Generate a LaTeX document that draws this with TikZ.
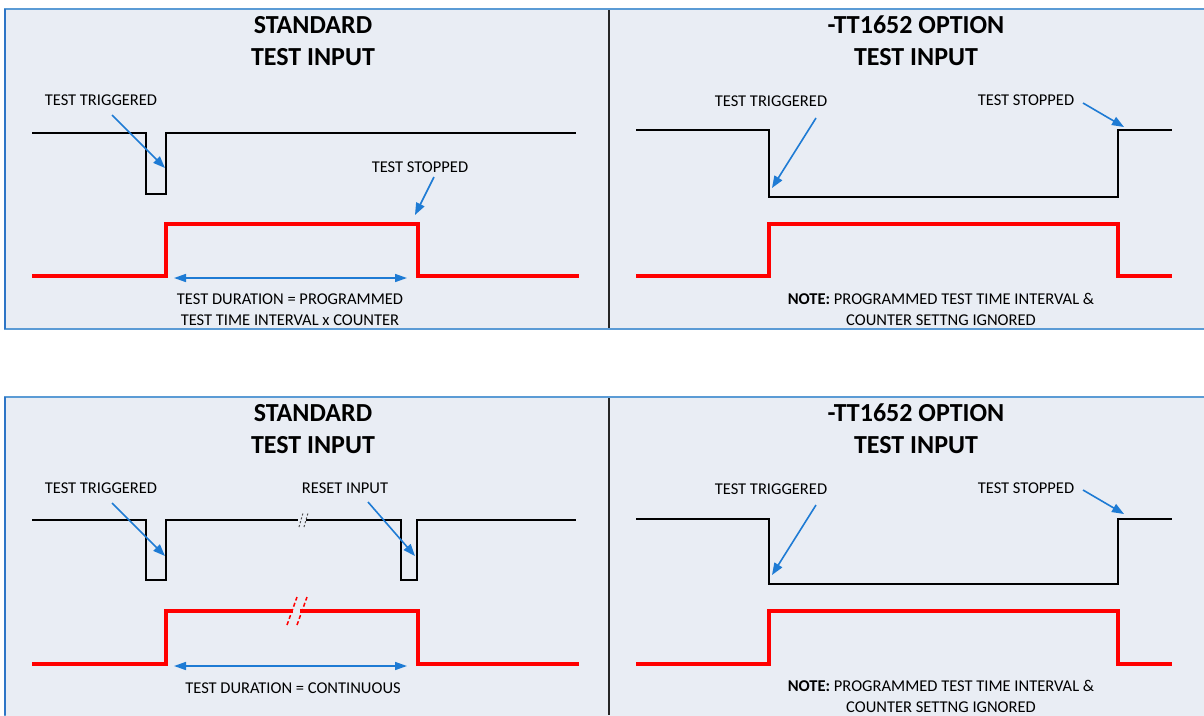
\documentclass[tikz,border=0pt]{standalone}
\usepackage{fontspec}
\setmainfont{Carlito}
\usetikzlibrary{arrows.meta}
\definecolor{panelbg}{HTML}{E9EDF4}
\definecolor{framebl}{HTML}{5B9BD5}
\definecolor{edgebl}{HTML}{2E75C6}
\definecolor{arrbl}{HTML}{1E7BD4}
\definecolor{redc}{HTML}{FF0000}
\begin{document}
\begin{tikzpicture}[x=1pt,y=-1pt,
  panel/.style={fill=panelbg,draw=framebl,line width=2pt},
  leftedge/.style={draw=edgebl,line width=2.2pt},
  divider/.style={draw=black!85,line width=2pt},
  title/.style={font=\fontsize{26}{32}\selectfont\bfseries,align=center,inner sep=0pt},
  lbl/.style={font=\fontsize{16.5}{21}\selectfont,inner sep=0pt,align=center},
  blacksig/.style={draw=black,line width=2pt},
  redsig/.style={draw=redc,line width=4pt},
  callout/.style={draw=arrbl,line width=1.6pt,-{Triangle[length=12pt,width=9pt]}},
  span/.style={draw=arrbl,line width=1.6pt,{Triangle[length=12pt,width=8pt]}-{Triangle[length=12pt,width=8pt]}},
  blackbreak/.style={draw=black!70,line width=1pt,dash pattern=on 2pt off 2pt},
  redbreak/.style={draw=redc,line width=1.5pt,dash pattern=on 4pt off 2.5pt}]
\clip (0,0) rectangle (1204,715);
% panels
\draw[panel] (5,9) rectangle (1215,329);
\draw[panel] (5,397) rectangle (1215,725);
\draw[leftedge] (5,9) -- (5,329);
\draw[leftedge] (5,397) -- (5,715);
\draw[divider] (609,10) -- (609,328);
\draw[divider] (609,398) -- (609,715);

% ---------- top left ----------
\node[title] (tlt) at (313,41) {STANDARD\\TEST INPUT};
\node[lbl] (tltrig) at (101,100) {TEST TRIGGERED};
\node[lbl] (tlstop) at (420,167) {TEST STOPPED};
\draw[blacksig] (32,133) -| (146,194) -| (166,133) -- (576,133);
\draw[redsig] (32,276) -| (166,224) -| (418,276) -- (579,276);
\coordinate (tla1s) at (112,115);
\coordinate (tla1e) at (165,168);
\draw[callout] (tla1s) -- (tla1e);
\coordinate (tla2s) at (434,177);
\coordinate (tla2e) at (415,215);
\draw[callout] (tla2s) -- (tla2e);
\coordinate (tlspa) at (174,278);
\coordinate (tlspb) at (407,278);
\draw[span] (tlspa) -- (tlspb);
\node[lbl] (tldur) at (290,309.5) {TEST DURATION = PROGRAMMED\\TEST TIME INTERVAL x COUNTER};

% ---------- top right ----------
\node[title] (trt) at (916,41) {-TT1652 OPTION\\TEST INPUT};
\node[lbl] (trtrig) at (771,101) {TEST TRIGGERED};
\node[lbl] (trstop) at (1026,100) {TEST STOPPED};
\draw[blacksig] (636,130) -| (769,197) -| (1118,130) -- (1172,130);
\draw[redsig] (636,276) -| (769,224) -| (1118,276) -- (1172,276);
\coordinate (tra1s) at (816,118);
\coordinate (tra1e) at (772,188);
\draw[callout] (tra1s) -- (tra1e);
\coordinate (tra2s) at (1083,103);
\coordinate (tra2e) at (1124,127);
\draw[callout] (tra2s) -- (tra2e);
\node[lbl] (trnote) at (941,309.5) {{\bfseries NOTE:} PROGRAMMED TEST TIME INTERVAL \&\\COUNTER SETTNG IGNORED};

% ---------- bottom left ----------
\node[title] (blt) at (313,429) {STANDARD\\TEST INPUT};
\node[lbl] (bltrig) at (101,488) {TEST TRIGGERED};
\node[lbl] (blreset) at (345,488) {RESET INPUT};
\draw[blacksig] (32,520) -| (146,580) -| (166,520) -- (298,520);
\draw[blacksig] (306,520) -| (401,580) -| (417,520) -- (576,520);
\draw[blackbreak] (299,527) -- (303,513);
\draw[blackbreak] (304,527) -- (308,513);
\draw[redsig] (32,664) -| (166,611) -- (293,611);
\draw[redsig] (300,611) -| (418,664) -- (579,664);
\draw[redbreak] (287,625) -- (297,597);
\draw[redbreak] (297,625) -- (307,597);
\coordinate (bla1s) at (112,503);
\coordinate (bla1e) at (165,556);
\draw[callout] (bla1s) -- (bla1e);
\coordinate (bla2s) at (368,502);
\coordinate (bla2e) at (415,556);
\draw[callout] (bla2s) -- (bla2e);
\coordinate (blspa) at (174,666);
\coordinate (blspb) at (407,666);
\draw[span] (blspa) -- (blspb);
\node[lbl] (bldur) at (293,688) {TEST DURATION = CONTINUOUS};

% ---------- bottom right ----------
\node[title] (brt) at (916,429) {-TT1652 OPTION\\TEST INPUT};
\node[lbl] (brtrig) at (771,489) {TEST TRIGGERED};
\node[lbl] (brstop) at (1026,488) {TEST STOPPED};
\draw[blacksig] (636,519) -| (769,584) -| (1118,519) -- (1172,519);
\draw[redsig] (636,664) -| (769,611) -| (1118,664) -- (1172,664);
\coordinate (bra1s) at (816,505);
\coordinate (bra1e) at (772,575);
\draw[callout] (bra1s) -- (bra1e);
\coordinate (bra2s) at (1083,490);
\coordinate (bra2e) at (1124,514);
\draw[callout] (bra2s) -- (bra2e);
\node[lbl] (brnote) at (941,696.5) {{\bfseries NOTE:} PROGRAMMED TEST TIME INTERVAL \&\\COUNTER SETTNG IGNORED};
\end{tikzpicture}
\end{document}
